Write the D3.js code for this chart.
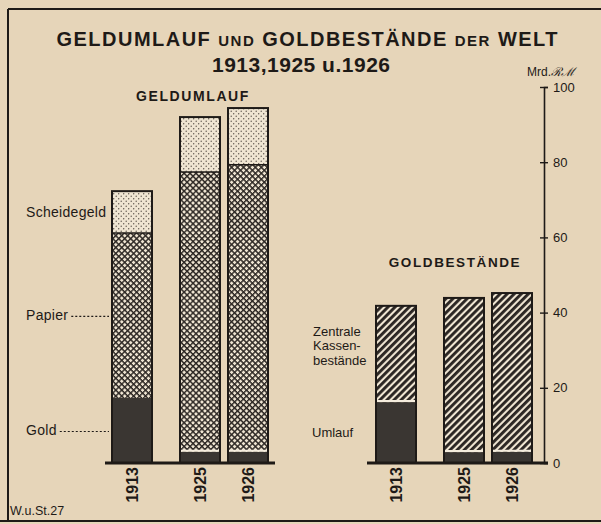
<!DOCTYPE html>
<html>
<head>
<meta charset="utf-8">
<script src="https://cdn.jsdelivr.net/npm/d3@7"></script>
<style>
body{margin:0;background:#e6d5b9;}
svg{display:block;font-family:"Liberation Sans",Arial,sans-serif;}
</style>
</head>
<body>
<svg id="chart"></svg>
<script>
// Werte in Mrd. RM
var jahre = ["1913", "1925", "1926"];
var gold = [17.3, 3, 3];
var papier = [43.9, 74.4, 76.3];
var scheidegeld = [11.1, 14.6, 15.1];
var umlauf = [16.2, 2.9, 3];
var kassen = [25.6, 41, 42.2];
var yTicks = [0, 20, 40, 60, 80, 100];

var width = 601, height = 524;
var ink = "#1e1a17";
var hell = "#efe5d2";
var dunkel = "#3a3632";

var svg = d3.select("#chart")
    .attr("width", width)
    .attr("height", height);

var defs = svg.append("defs");

// Punktraster (Scheidegeld)
var pPunkte = defs.append("pattern")
    .attr("id", "punkte")
    .attr("patternUnits", "userSpaceOnUse")
    .attr("width", 5).attr("height", 5);
pPunkte.append("rect").attr("width", 5).attr("height", 5).attr("fill", hell);
pPunkte.append("circle").attr("cx", 1.2).attr("cy", 1.2).attr("r", 0.7).attr("fill", "#5b534b");
pPunkte.append("circle").attr("cx", 3.7).attr("cy", 3.7).attr("r", 0.7).attr("fill", "#5b534b");

// Kreuzschraffur (Papier)
var pKreuz = defs.append("pattern")
    .attr("id", "kreuz")
    .attr("patternUnits", "userSpaceOnUse")
    .attr("width", 4.2).attr("height", 4.2)
    .attr("patternTransform", "rotate(45)");
pKreuz.append("rect").attr("width", 4.2).attr("height", 4.2).attr("fill", hell);
pKreuz.append("path").attr("d", "M0,0.7H4.2M0.7,0V4.2")
    .attr("stroke", "#2b2623").attr("stroke-width", 1.4);

// Schraege Linien (Kassenbestaende)
var pSchraeg = defs.append("pattern")
    .attr("id", "schraeg")
    .attr("patternUnits", "userSpaceOnUse")
    .attr("width", 5).attr("height", 5)
    .attr("patternTransform", "rotate(45)");
pSchraeg.append("rect").attr("width", 5).attr("height", 5).attr("fill", hell);
pSchraeg.append("rect").attr("width", 2.9).attr("height", 5).attr("fill", "#2a2522");

// Rahmen
var rahmen = svg.append("g").attr("stroke", ink).attr("stroke-width", 2);
rahmen.append("line").attr("x1", 8).attr("x2", width).attr("y1", 9).attr("y2", 9);
rahmen.append("line").attr("x1", 8).attr("x2", 8).attr("y1", 9).attr("y2", 521);
rahmen.append("line").attr("x1", 0).attr("x2", width).attr("y1", 521).attr("y2", 521);

// Titel
var titel = svg.append("text")
    .attr("x", 307).attr("y", 46)
    .attr("text-anchor", "middle")
    .attr("font-weight", "bold")
    .attr("font-size", 20)
    .attr("fill", ink)
    .attr("textLength", 501)
    .attr("lengthAdjust", "spacing");
titel.append("tspan").text("GELDUMLAUF ");
titel.append("tspan").attr("font-size", 15).text("UND");
titel.append("tspan").text(" GOLDBESTÄNDE ");
titel.append("tspan").attr("font-size", 15).text("DER");
titel.append("tspan").text(" WELT");

svg.append("text")
    .attr("x", 301).attr("y", 72)
    .attr("text-anchor", "middle")
    .attr("font-weight", "bold")
    .attr("font-size", 21)
    .attr("fill", ink)
    .attr("textLength", 178)
    .attr("lengthAdjust", "spacing")
    .text("1913,1925 u.1926");

// Skalen
var y = d3.scaleLinear().domain([0, 100]).range([463, 87]);
var zeitsprung = 20; // Abstand zwischen 1913 und der Nachkriegszeit

function bandX(range){
    var s = d3.scaleBand().domain(jahre).range(range)
        .paddingInner(1 / 6).paddingOuter(1 / 12);
    var f = function(j){ return s(j) - (j === jahre[0] ? zeitsprung : 0); };
    f.bandwidth = s.bandwidth;
    return f;
}
var xL = bandX([128, 272]);
var xR = bandX([392, 536]);

var zeilenL = jahre.map((j, i) => ({jahr: j, gold: gold[i], papier: papier[i], scheidegeld: scheidegeld[i]}));
var zeilenR = jahre.map((j, i) => ({jahr: j, umlauf: umlauf[i], kassen: kassen[i]}));

var stackL = d3.stack().keys(["gold", "papier", "scheidegeld"])(zeilenL);
var stackR = d3.stack().keys(["umlauf", "kassen"])(zeilenR);

var fuellung = {
    gold: dunkel, papier: "url(#kreuz)", scheidegeld: "url(#punkte)",
    umlauf: dunkel, kassen: "url(#schraeg)"
};

function zeichneGruppe(stack, x, hellTrenner){
    var g = svg.append("g");
    g.selectAll("g.schicht")
        .data(stack)
        .join("g")
        .attr("class", "schicht")
        .attr("fill", d => fuellung[d.key])
        .selectAll("rect")
        .data(d => d)
        .join("rect")
        .attr("x", d => x(d.data.jahr))
        .attr("y", d => y(d[1]))
        .attr("width", x.bandwidth())
        .attr("height", d => y(d[0]) - y(d[1]));

    // Trennlinien zwischen den Schichten
    for(var k = 1; k < stack.length; k++){
        g.selectAll(null)
            .data(stack[k])
            .join("line")
            .filter(d => k > 1 || hellTrenner(d.data.jahr))
            .attr("x1", d => x(d.data.jahr) + 1)
            .attr("x2", d => x(d.data.jahr) + x.bandwidth() - 1)
            .attr("y1", d => y(d[0]) - (k > 1 ? 0 : 1))
            .attr("y2", d => y(d[0]) - (k > 1 ? 0 : 1))
            .attr("stroke", k > 1 ? ink : "#f4ecdd")
            .attr("stroke-width", k > 1 ? 1.5 : 2);
    }

    var oben = stack[stack.length - 1];
    g.selectAll("rect.umriss")
        .data(oben)
        .join("rect")
        .attr("class", "umriss")
        .attr("x", d => x(d.data.jahr))
        .attr("y", d => y(d[1]))
        .attr("width", x.bandwidth())
        .attr("height", d => y(0) - y(d[1]))
        .attr("fill", "none")
        .attr("stroke", ink)
        .attr("stroke-width", 2);

    // Jahreszahlen
    g.selectAll("text.jahr")
        .data(jahre)
        .join("text")
        .attr("class", "jahr")
        .attr("transform", j => `translate(${x(j) + x.bandwidth() / 2},467) rotate(-90)`)
        .attr("text-anchor", "end")
        .attr("dy", "0.36em")
        .attr("font-weight", "bold")
        .attr("font-size", 16)
        .attr("fill", ink)
        .text(j => j);
    return g;
}

zeichneGruppe(stackL, xL, j => j !== jahre[0]);
zeichneGruppe(stackR, xR, j => true);

// Grundlinien
svg.append("line")
    .attr("x1", xL(jahre[0]) - 7).attr("x2", xL(jahre[2]) + xL.bandwidth() + 7)
    .attr("y1", y(0)).attr("y2", y(0))
    .attr("stroke", ink).attr("stroke-width", 3);
svg.append("line")
    .attr("x1", xR(jahre[0]) - 9).attr("x2", 548)
    .attr("y1", y(0)).attr("y2", y(0))
    .attr("stroke", ink).attr("stroke-width", 3);

// Achse rechts
var achse = svg.append("g")
    .attr("transform", "translate(544,0)")
    .call(d3.axisRight(y).tickValues(yTicks).tickSizeOuter(0).tickSize(4).tickPadding(5));
achse.select(".domain").attr("stroke", ink).attr("stroke-width", 1.6);
achse.selectAll(".tick line").attr("x1", -4).attr("x2", 4).attr("stroke", ink).attr("stroke-width", 1.4);
achse.selectAll(".tick text")
    .attr("font-family", "Liberation Sans, Arial, sans-serif")
    .attr("font-size", 13)
    .attr("fill", ink);

var einheit = svg.append("text")
    .attr("x", 527).attr("y", 76)
    .attr("font-size", 12)
    .attr("fill", ink);
einheit.append("tspan").text("Mrd.");
einheit.append("tspan").attr("font-style", "italic").attr("font-family", "DejaVu Serif, serif").text("ℛℳ");

// Ueberschriften der Gruppen
svg.append("text")
    .attr("x", 193).attr("y", 101)
    .attr("text-anchor", "middle")
    .attr("font-weight", "bold")
    .attr("font-size", 14)
    .attr("letter-spacing", 1.6)
    .attr("fill", ink)
    .text("GELDUMLAUF");
svg.append("text")
    .attr("x", 455).attr("y", 267)
    .attr("text-anchor", "middle")
    .attr("font-weight", "bold")
    .attr("font-size", 13.5)
    .attr("letter-spacing", 1.6)
    .attr("fill", ink)
    .text("GOLDBESTÄNDE");

// Legenden an der 1913er Saeule
function mitte(schicht){ return y((schicht[0][0] + schicht[0][1]) / 2); }

var leg = svg.append("g").attr("font-size", 14).attr("letter-spacing", 0.3).attr("fill", ink);
var legDaten = [
    {text: "Scheidegeld", schicht: stackL[2], punkte: false},
    {text: "Papier", schicht: stackL[1], punkte: true},
    {text: "Gold", schicht: stackL[0], punkte: true}
];
legDaten.forEach(function(l){
    var t = leg.append("text")
        .attr("x", 26)
        .attr("y", mitte(l.schicht))
        .attr("dy", "0.35em")
        .text(l.text);
    if(l.punkte){
        var ende = 26 + t.node().getComputedTextLength() + 3;
        leg.append("line")
            .attr("x1", ende).attr("x2", xL(jahre[0]) - 3)
            .attr("y1", mitte(l.schicht) + 1).attr("y2", mitte(l.schicht) + 1)
            .attr("stroke", ink).attr("stroke-width", 1.2)
            .attr("stroke-dasharray", "2,2");
    }
});

var legR = svg.append("g").attr("font-size", 13).attr("fill", ink);
legR.append("text")
    .attr("x", 313)
    .attr("y", mitte(stackR[1]) - 18)
    .selectAll("tspan")
    .data(["Zentrale", "Kassen-", "bestände"])
    .join("tspan")
    .attr("x", 313)
    .attr("dy", (d, i) => i === 0 ? 0 : 14.5)
    .text(d => d);
legR.append("text")
    .attr("x", 312)
    .attr("y", mitte(stackR[0]))
    .attr("dy", "0.35em")
    .text("Umlauf");

// Quelle
svg.append("text")
    .attr("x", 10).attr("y", 515)
    .attr("font-size", 12.5)
    .attr("fill", ink)
    .text("W.u.St.27");
</script>
</body>
</html>
